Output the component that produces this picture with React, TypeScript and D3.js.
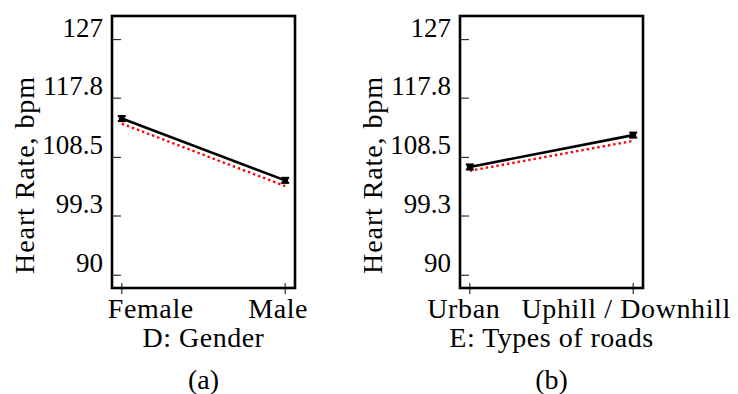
import * as d3 from 'd3'

const yTicks = [90, 99.3, 108.5, 117.8, 127]

const genderCats = ['Female', 'Male']
const genderMeans = [114.6, 104.9]
const genderPred = [113.8, 104.0]
const genderErr = [0.4, 0.4]

const roadCats = ['Urban', 'Uphill / Downhill']
const roadMeans = [107.0, 112.0]
const roadPred = [106.4, 111.1]
const roadErr = [0.4, 0.4]

const font = "'Liberation Serif', 'Times New Roman', serif"

function Panel({
  left,
  cats,
  means,
  pred,
  err,
  labelShift,
  xTitle,
  caption,
}: {
  left: number
  cats: string[]
  means: number[]
  pred: number[]
  err: number[]
  labelShift: number[]
  xTitle: string
  caption: string
}) {
  const top = 16
  const bottom = 288
  const right = left + 183
  const mid = (left + right) / 2
  const x = d3.scalePoint<string>().domain(cats).range([left, right]).padding(0.06)
  const y = d3.scaleLinear().domain([88, 130.7]).range([bottom, top])

  const rows = cats.map((c, i) => ({ c, m: means[i], p: pred[i], e: err[i] }))
  const meanLine = d3
    .line<(typeof rows)[number]>()
    .x((d) => x(d.c) ?? 0)
    .y((d) => y(d.m))
  const predLine = d3
    .line<(typeof rows)[number]>()
    .x((d) => x(d.c) ?? 0)
    .y((d) => y(d.p))

  return (
    <g fontFamily={font} fill="#000">
      {yTicks.map((t) => (
        <g key={t}>
          <line x1={left} x2={left + 9} y1={y(t)} y2={y(t)} stroke="#333" strokeWidth="1.2" />
          <text x={left - 9} y={y(t) - 3} textAnchor="end" fontSize="27">
            {t}
          </text>
        </g>
      ))}

      {cats.map((c, i) => (
        <g key={c}>
          <line
            x1={x(c)}
            x2={x(c)}
            y1={bottom - 5}
            y2={bottom + 6}
            stroke="#333"
            strokeWidth="1.2"
          />
          <text
            x={(x(c) ?? 0) + labelShift[i]}
            y={318}
            textAnchor="middle"
            fontSize="28"
            letterSpacing="0.6"
          >
            {c}
          </text>
        </g>
      ))}

      <rect
        x={left}
        y={top}
        width={right - left}
        height={bottom - top}
        fill="none"
        stroke="#000"
        strokeWidth="2.6"
      />

      <path
        d={predLine(rows) ?? ''}
        fill="none"
        stroke="#ff0000"
        strokeWidth="2.4"
        strokeDasharray="2.4 3"
      />
      <path d={meanLine(rows) ?? ''} fill="none" stroke="#000" strokeWidth="2.6" />

      {rows.map((d) => {
        const cx = x(d.c) ?? 0
        return (
          <g key={d.c} stroke="#000" strokeWidth="2">
            <line x1={cx} x2={cx} y1={y(d.m + d.e)} y2={y(d.m - d.e)} />
            <line x1={cx - 4} x2={cx + 4} y1={y(d.m + d.e)} y2={y(d.m + d.e)} />
            <line x1={cx - 4} x2={cx + 4} y1={y(d.m - d.e)} y2={y(d.m - d.e)} />
            <rect x={cx - 3} y={y(d.m) - 2.5} width={6} height={5} fill="#000" stroke="none" />
          </g>
        )
      })}

      <text
        transform={`translate(${left - 78},175) rotate(-90)`}
        textAnchor="middle"
        fontSize="28"
        letterSpacing="0.9"
      >
        Heart Rate, bpm
      </text>
      <text x={mid} y={347} textAnchor="middle" fontSize="28" letterSpacing="0.5">
        {xTitle}
      </text>
      <text x={mid} y={389} textAnchor="middle" fontSize="28">
        {caption}
      </text>
    </g>
  )
}

export default function App() {
  return (
    <svg
      width={738}
      height={394}
      viewBox="0 0 738 394"
      style={{ position: 'absolute', left: 0, top: 0, background: '#fff' }}
    >
      <rect width={738} height={394} fill="#fff" />
      <Panel
        left={112}
        cats={genderCats}
        means={genderMeans}
        pred={genderPred}
        err={genderErr}
        labelShift={[29, -7]}
        xTitle="D: Gender"
        caption="(a)"
      />
      <Panel
        left={460}
        cats={roadCats}
        means={roadMeans}
        pred={roadPred}
        err={roadErr}
        labelShift={[-6, -7]}
        xTitle="E: Types of roads"
        caption="(b)"
      />
    </svg>
  )
}
